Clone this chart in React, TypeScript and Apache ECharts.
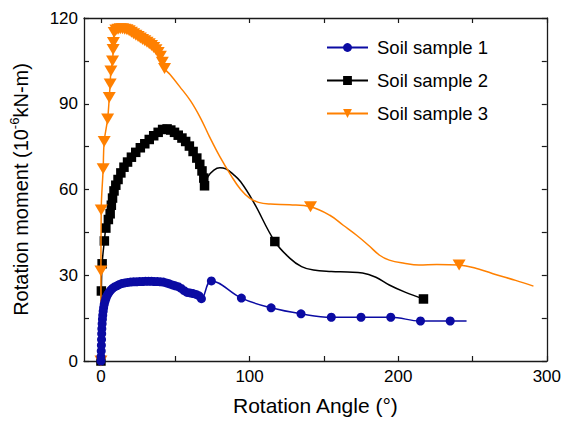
import React, { useEffect, useRef } from 'react';
import * as echarts from 'echarts';

const FONT = "'Liberation Sans', Arial, sans-serif";

const seriesNames = ['Soil sample 1', 'Soil sample 2', 'Soil sample 3'];
const seriesColors = ['#0b0ba3', '#000000', '#ff8000'];

const xTickValues = [0, 50, 100, 150, 200, 250, 300];
const xLabelValues = [0, 100, 200, 300];
const yTickValues = [0, 15, 30, 45, 60, 75, 90, 105, 120];
const yLabelValues = [0, 30, 60, 90, 120];

// Soil sample 1 — measured points (with markers)
const sample1Angle = [0, 0, 0.2, 0.3, 0.4, 0.5, 0.6, 0.8, 1.0, 1.2, 1.5, 1.8, 2.2, 2.7, 3.3, 4.0, 4.8, 5.7, 6.8, 8.0, 9.5, 11, 12.5, 14, 16, 18, 20, 22, 24, 26, 28, 30, 32, 34, 36, 38, 40, 42, 44, 46, 48, 50, 52, 54, 56, 58, 60, 62, 64, 66, 67.6, 74.3, 94.5, 114.5, 134.6, 155, 175, 195, 215, 235];
const sample1Moment = [0, 1.5, 3.5, 5.5, 7.5, 9.5, 11.3, 13, 14.6, 16, 17.4, 18.6, 19.8, 20.8, 21.8, 22.7, 23.5, 24.2, 24.9, 25.5, 26.0, 26.4, 26.8, 27.1, 27.3, 27.5, 27.6, 27.7, 27.7, 27.8, 27.8, 27.9, 27.9, 27.9, 27.8, 27.8, 27.7, 27.6, 27.3, 27.0, 26.6, 26.3, 26.0, 25.4, 24.6, 24.0, 23.8, 23.6, 23.3, 22.8, 21.8, 28, 22, 18.6, 16.5, 15.3, 15.3, 15.3, 14, 14];
// Soil sample 1 — curve-only points
const sample1CurveAngle = [246];
const sample1CurveMoment = [14];

// Soil sample 2 — measured points
const sample2Angle = [0, 0.3, 0.8, 2.3, 3.3, 5, 6.2, 7, 7.8, 8.8, 10, 11.5, 13.4, 15.5, 17.9, 20.5, 23.4, 26.5, 29.5, 32.5, 35.5, 38.5, 41.5, 44.5, 47, 49.5, 52, 54.5, 57, 59.5, 62, 64.5, 66.5, 68, 69.2, 69.7, 117, 217];
const sample2Moment = [0, 24.5, 34, 42, 46.5, 49.5, 51.5, 54.5, 57, 59.5, 61.5, 63.5, 65.8, 67.8, 69.6, 71.3, 73, 74.6, 76, 77.5, 78.8, 80, 81, 81.2, 80.8, 80, 79, 78, 76.8, 75.2, 73.3, 71, 68.8, 66.5, 64, 61.3, 41.8, 21.7];
// Soil sample 2 — curve-only points
const sample2CurveAngle = [72, 76, 80, 84, 89, 94, 102.5, 127, 135, 143, 155, 166, 176, 185, 194, 205];
const sample2CurveMoment = [64.5, 66.8, 67.6, 67.2, 65.3, 62.7, 55.8, 36, 33, 31.8, 31.3, 31.1, 30.8, 29.3, 26.6, 24];

// Soil sample 3 — measured points
const sample3Angle = [0, 0, 0.2, 1.5, 2.2, 4.5, 5.6, 6.2, 6.7, 7.8, 8.2, 8.4, 8.9, 10, 11.5, 13, 14.5, 16, 17.5, 19, 20.5, 22, 23.5, 25, 26.5, 28, 29.5, 31, 32.5, 34, 35.5, 37, 38.5, 40, 41.3, 42.8, 141, 241];
const sample3Moment = [0, 31.5, 52.8, 67.3, 76.8, 84.7, 92.2, 96.9, 101.5, 105, 109, 111.4, 114.9, 115.8, 116.1, 116.2, 116.2, 116.1, 115.9, 115.5, 115, 114.5, 114, 113.5, 113, 112.5, 112, 111.5, 111, 110.4, 109.7, 108.9, 107.9, 106.6, 104.5, 102.3, 54, 33.6];
// Soil sample 3 — curve-only points
const sample3CurveAngle = [46.5, 53, 60.3, 67, 73, 80, 88, 94, 100, 106, 114, 127, 154, 163, 172, 180, 187.5, 194, 204, 214, 226, 254, 266, 279, 291];
const sample3CurveMoment = [100.2, 96, 91, 85, 78.5, 71.5, 64.5, 60, 57, 55.5, 54.9, 54.7, 51, 47.5, 44, 40.5, 37, 35.3, 34.2, 33.6, 33.8, 32.2, 30.2, 28.2, 26.2];

function buildData(mx: number[], my: number[], cx: number[], cy: number[]) {
  const items: any[] = [];
  mx.forEach((x, i) => items.push({ value: [x, my[i]] }));
  cx.forEach((x, i) => items.push({ value: [x, cy[i]], symbol: 'none' }));
  return items.sort((a, b) => a.value[0] - b.value[0]);
}

const TRI_DOWN = 'path://M0,0 L12,0 L6,10 Z';

export default function App() {
  const ref = useRef<HTMLDivElement>(null);

  useEffect(() => {
    if (!ref.current) return;
    const chart = echarts.init(ref.current, undefined, { renderer: 'svg' });
    const axisLine = { show: true, onZero: false, lineStyle: { color: '#1a1a1a', width: 1.3 } };
    const tickStyle = { show: true, inside: true, length: 5, lineStyle: { color: '#1a1a1a', width: 1.2 } };
    const labelStyle = { color: '#000', fontSize: 17, fontFamily: FONT };
    const xMin = -11.4;

    const option: any = {
      animation: false,
      backgroundColor: '#fff',
      grid: { left: 83, right: 16, top: 18, bottom: 57, containLabel: false },
      legend: {
        data: seriesNames,
        left: 321,
        top: 33,
        orient: 'vertical',
        itemWidth: 41,
        itemHeight: 11,
        itemGap: 14,
        textStyle: { color: '#000', fontSize: 18.5, fontFamily: FONT, padding: [0, 0, 0, 4] },
      },
      xAxis: [
        {
          type: 'value',
          position: 'bottom',
          min: xMin,
          max: 300,
          name: 'Rotation Angle (°)',
          nameLocation: 'middle',
          nameGap: 34,
          nameTextStyle: { color: '#000', fontSize: 21, fontFamily: FONT },
          axisLine,
          axisTick: { ...tickStyle, customValues: xTickValues },
          axisLabel: { ...labelStyle, margin: 7, customValues: xLabelValues },
          splitLine: { show: false },
        },
        {
          type: 'value',
          position: 'top',
          min: xMin,
          max: 300,
          axisLine,
          axisTick: { ...tickStyle, customValues: xTickValues },
          axisLabel: { show: false },
          splitLine: { show: false },
        },
      ],
      yAxis: [
        {
          type: 'value',
          position: 'left',
          min: 0,
          max: 120,
          interval: 30,
          name: '{a|Rotation moment (10}{s|-6}{a|kN-m)}',
          nameLocation: 'middle',
          nameRotate: 90,
          nameGap: 50,
          nameTextStyle: {
            color: '#000',
            fontSize: 20,
            fontFamily: FONT,
            rich: {
              a: { color: '#000', fontSize: 20, fontFamily: FONT, lineHeight: 26 },
              s: { color: '#000', fontSize: 13, fontFamily: FONT, lineHeight: 14, verticalAlign: 'top' },
            },
          },
          axisLine,
          axisTick: { ...tickStyle, customValues: yTickValues },
          axisLabel: { ...labelStyle, margin: 6, customValues: yLabelValues },
          splitLine: { show: false },
        },
        {
          type: 'value',
          position: 'right',
          min: 0,
          max: 120,
          interval: 30,
          axisLine,
          axisTick: { ...tickStyle, customValues: yTickValues },
          axisLabel: { show: false },
          splitLine: { show: false },
        },
      ],
      series: [
        {
          name: seriesNames[0],
          type: 'line',
          smooth: 0.4,
          showAllSymbol: true,
          symbol: 'circle',
          symbolSize: 9,
          z: 4,
          color: seriesColors[0],
          lineStyle: { color: seriesColors[0], width: 1.5 },
          itemStyle: { color: seriesColors[0] },
          data: buildData(sample1Angle, sample1Moment, sample1CurveAngle, sample1CurveMoment),
        },
        {
          name: seriesNames[1],
          type: 'line',
          smooth: 0.4,
          showAllSymbol: true,
          symbol: 'rect',
          symbolSize: 9.5,
          z: 2,
          color: seriesColors[1],
          lineStyle: { color: seriesColors[1], width: 1.5 },
          itemStyle: { color: seriesColors[1] },
          data: buildData(sample2Angle, sample2Moment, sample2CurveAngle, sample2CurveMoment),
        },
        {
          name: seriesNames[2],
          type: 'line',
          smooth: 0.4,
          showAllSymbol: true,
          symbol: TRI_DOWN,
          symbolSize: [13, 11],
          z: 3,
          color: seriesColors[2],
          lineStyle: { color: seriesColors[2], width: 1.5 },
          itemStyle: { color: seriesColors[2] },
          data: buildData(sample3Angle, sample3Moment, sample3CurveAngle, sample3CurveMoment),
        },
      ],
    };
    chart.setOption(option);
    return () => chart.dispose();
  }, []);

  return <div ref={ref} style={{ width: 564, height: 421, position: 'absolute', left: 0, top: 0, background: '#fff' }} />;
}
